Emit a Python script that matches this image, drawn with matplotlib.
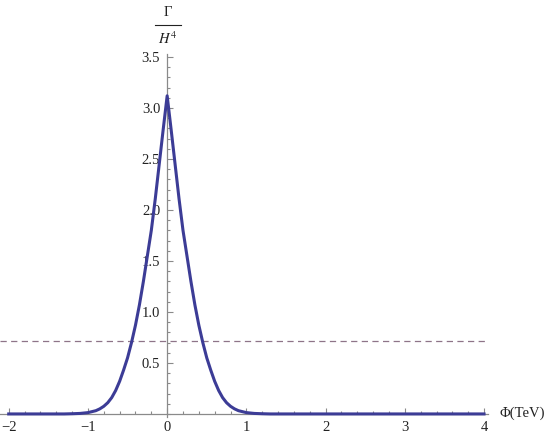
import matplotlib
matplotlib.use("Agg")
import matplotlib.pyplot as plt
from matplotlib.lines import Line2D
from matplotlib.ticker import MultipleLocator, FixedLocator

# valores (Gamma/H^4 contra Phi en TeV)
phi = [-2.0, -1.3, -1.2, -1.1, -1.0, -0.9, -0.85, -0.8, -0.75, -0.7, -0.65,
       -0.6, -0.55, -0.5, -0.45, -0.4, -0.35, -0.3, -0.25, -0.2, -0.15, -0.1,
       -0.05, 0.0, 0.05, 0.1, 0.15, 0.2, 0.25, 0.3, 0.35, 0.4, 0.45, 0.5,
       0.55, 0.6, 0.65, 0.7, 0.75, 0.8, 0.85, 0.9, 1.0, 1.1, 1.2, 1.3, 4.0]
gamma = [0.0, 0.0, 0.002, 0.005, 0.013, 0.032, 0.05, 0.075, 0.11, 0.16, 0.23,
         0.32, 0.43, 0.55, 0.70, 0.87, 1.07, 1.30, 1.55, 1.80, 2.11, 2.45,
         2.79, 3.12, 2.79, 2.45, 2.11, 1.80, 1.55, 1.30, 1.07, 0.87, 0.70, 0.55,
         0.43, 0.32, 0.23, 0.16, 0.11, 0.075, 0.05, 0.032, 0.013, 0.005, 0.002, 0.0, 0.0]
umbral = 0.72

x_ticks = [-2, -1, 0, 1, 2, 3, 4]
x_labels = ["\u22122", "\u22121", "0", "1", "2", "3", "4"]
y_ticks = [0.5, 1.0, 1.5, 2.0, 2.5, 3.0, 3.5]
y_labels = ["0.5", "1.0", "1.5", "2.0", "2.5", "3.0", "3.5"]

plt.rcParams['font.family'] = ['Liberation Serif', 'DejaVu Serif']
plt.rcParams['mathtext.fontset'] = 'stix'

W, H = 545, 436
fig = plt.figure(figsize=(5.45, 4.36), dpi=100)
ax = fig.add_axes([0.0, (H - 417) / H, 488 / W, 363 / H])
ax.set_xlim(-2.11, 4.05)
ax.set_ylim(-0.03, 3.53)

gris = '#8a8a8a'
for s in ['top', 'right']:
    ax.spines[s].set_visible(False)
ax.spines['left'].set_position(('data', 0))
ax.spines['bottom'].set_position(('data', 0))
for s in ['left', 'bottom']:
    ax.spines[s].set_color(gris)
    ax.spines[s].set_linewidth(0.9)

ax.xaxis.set_major_locator(FixedLocator(x_ticks))
ax.set_xticklabels(x_labels)
ax.xaxis.set_minor_locator(MultipleLocator(0.2))
ax.yaxis.set_major_locator(FixedLocator(y_ticks))
ax.set_yticklabels(y_labels)
ax.yaxis.set_minor_locator(MultipleLocator(0.1))
ax.tick_params(which='both', direction='in', color=gris, width=0.8,
               labelsize=10.5, labelcolor='#222222')
ax.tick_params(which='major', length=4)
ax.tick_params(which='minor', length=2.5)
ax.tick_params(axis='x', pad=5)
ax.tick_params(axis='y', pad=5)

ax.axhline(umbral, color='#8e7488', lw=0.9, dashes=(5, 3.5), zorder=2)
ax.plot(phi, gamma, color='#3c3c96', lw=2.2, solid_joinstyle='round', zorder=5, clip_on=False)

# etiquetas de ejes como en Mathematica
fig.text(500 / W, (H - 413) / H, "\u03a6(TeV)", ha='left', va='center', fontsize=10.5, color='#222222')
fig.text(168 / W, (H - 12) / H, "\u0393", ha='center', va='center', fontsize=10.5, color='#222222')
fig.add_artist(Line2D([155 / W, 181 / W], [(H - 25) / H] * 2, color='#222222', lw=0.8))
fig.text(168 / W, (H - 39) / H, "$H^4$", ha='center', va='center', fontsize=10.5, color='#222222')

fig.savefig("out.png", dpi=100)
